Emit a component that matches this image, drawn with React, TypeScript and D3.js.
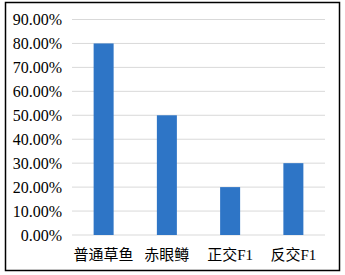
import React from "react";
import * as d3 from "d3";

const categories = ["普通草鱼", "赤眼鳟", "正交F1", "反交F1"];
const values = [0.8, 0.5, 0.2, 0.3];
const yTicks = [0, 0.1, 0.2, 0.3, 0.4, 0.5, 0.6, 0.7, 0.8, 0.9];

export default function App() {
  const W = 345, H = 275;
  const left = 72, right = 325, top = 19.5, bottom = 235;
  const x = d3.scaleBand<string>().domain(categories).range([left, right]).paddingInner(0).paddingOuter(0);
  const y = d3.scaleLinear().domain([0, 0.9]).range([bottom, top]);
  const fmt = (v: number) => (v * 100).toFixed(2) + "%";
  const barW = 20;
  const font = "'Liberation Serif', 'Times New Roman', 'Noto Sans CJK SC', serif";
  return (
    <svg width={W} height={H} style={{ position: "fixed", left: 0, top: 0, background: "#fff" }}>
      <rect x={5.5} y={2.5} width={334} height={268} fill="#fff" stroke="#000" strokeWidth={1.5} />
      {yTicks.map((t) => (
        <g key={t}>
          <line x1={left} x2={right} y1={y(t)} y2={y(t)} stroke="#d9d9d9" strokeWidth={1} />
          <text x={62} y={y(t)} dy="0.35em" textAnchor="end" fontFamily={font} fontSize={16} fill="#000">
            {fmt(t)}
          </text>
        </g>
      ))}
      {categories.map((c, i) => (
        <rect key={c} x={x(c)! + x.bandwidth() / 2 - barW / 2} y={y(values[i])} width={barW} height={bottom - y(values[i])} fill="#2e75c6" />
      ))}
      {categories.map((c) => (
        <text key={c} x={x(c)! + x.bandwidth() / 2} y={260} textAnchor="middle" fontFamily={font} fontSize={15} fill="#000">
          {c}
        </text>
      ))}
    </svg>
  );
}
